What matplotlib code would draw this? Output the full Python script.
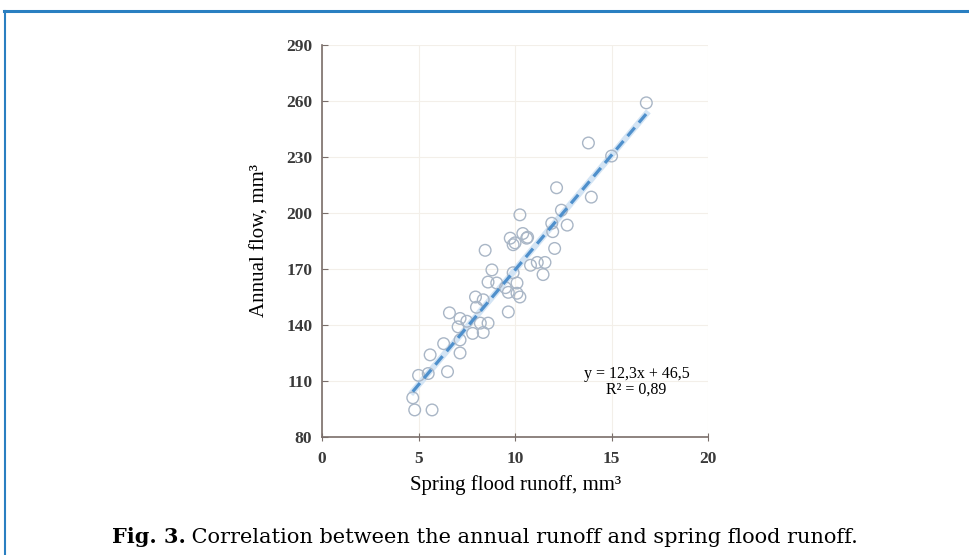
import numpy as np
import matplotlib.pyplot as plt
from matplotlib.lines import Line2D

# spring flood runoff (x) and annual flow (y)
spring = [4.7, 4.8, 5.7, 5.0, 5.5, 6.5, 5.6, 7.15, 6.3, 7.15,
          7.05, 6.6, 7.15, 7.8, 8.35, 8.2, 8.6, 9.65, 8.0, 8.35,
          7.95, 9.65, 10.25, 10.1, 9.9, 8.6, 9.05, 8.8, 11.45, 10.8,
          11.15, 11.55, 12.05, 8.45, 10.0, 9.75, 10.4, 10.6, 11.95, 12.7,
          12.4, 10.25, 11.9, 12.15, 13.95, 15.0, 13.8, 16.8, 9.9, 10.65,
          7.5, 9.5, 10.1]
annual = [101, 94.5, 94.5, 113, 114, 115, 124, 125, 130, 132,
          139, 146.5, 143.5, 135.5, 136, 141, 141, 147, 149.5, 153.5,
          155, 157.5, 155, 162.5, 168, 163, 162.5, 169.5, 167, 172,
          173.5, 173.5, 181, 180, 184, 186.5, 189, 186.5, 190, 193.5,
          201.5, 199, 194.5, 213.5, 208.5, 230.5, 237.5, 259, 183, 187,
          142, 160, 157]

slope, intercept, r2 = 12.3, 46.5, 0.89
xticks = [0, 5, 10, 15, 20]
yticks = [80, 110, 140, 170, 200, 230, 260, 290]

plt.rcParams['font.family'] = ['Liberation Serif', 'DejaVu Serif']

fig = plt.figure(figsize=(9.7, 5.55), dpi=100)
ax = fig.add_axes([0.332, 0.2126, 0.398, 0.7064])

ax.scatter(spring, annual, s=70, facecolors='none', edgecolors='#a9b6c6',
           linewidths=1.0, zorder=3)

xs = np.array([min(spring), max(spring)])
ax.plot(xs, slope * xs + intercept, color='#d3e4f4', lw=4.5, zorder=2)
ax.plot(xs, slope * xs + intercept, color='#4f90cc', lw=2.3,
        dashes=(3.5, 2), zorder=4)

ax.set_xlim(0, 20)
ax.set_ylim(80, 290)
ax.set_xticks(xticks)
ax.set_yticks(yticks)
ax.grid(True, color='#f3efe9', lw=0.8)
ax.set_axisbelow(True)

for s in ['top', 'right']:
    ax.spines[s].set_visible(False)
for s in ['left', 'bottom']:
    ax.spines[s].set_color('#7a6e6a')
    ax.spines[s].set_linewidth(1.2)
ax.tick_params(axis='y', direction='in', length=4, color='#7a6e6a',
               labelsize=12.5, labelcolor='#3a3a3a', pad=7)
ax.tick_params(axis='x', direction='inout', length=6, color='#7a6e6a',
               labelsize=12.5, labelcolor='#3a3a3a', pad=7)
for lab in ax.get_xticklabels() + ax.get_yticklabels():
    lab.set_fontweight('bold')

ax.set_ylabel('Annual flow, mm³', fontsize=15, labelpad=12)
ax.set_xlabel('Spring flood runoff, mm³', fontsize=15, labelpad=6)

ax.text(16.3, 113.5, 'y = 12,3x + 46,5', ha='center', va='center', fontsize=11.5)
ax.text(16.3, 105.5, 'R² = 0,89', ha='center', va='center', fontsize=11.5)

# caption: bold lead-in + regular text, centred as one line
fig.canvas.draw()
r = fig.canvas.get_renderer()
cap = dict(fontsize=15, va='baseline', family=['DejaVu Serif'])
t1 = fig.text(0, 0.022, 'Fig. 3.', fontweight='bold', **cap)
t2 = fig.text(0, 0.022, ' Correlation between the annual runoff and spring flood runoff.', **cap)
w1 = t1.get_window_extent(r).width / fig.bbox.width
w2 = t2.get_window_extent(r).width / fig.bbox.width
x0 = 0.5 - (w1 + w2) / 2
t1.set_x(x0)
t2.set_x(x0 + w1)

# blue frame on top and left edge
fig.add_artist(Line2D([0.004, 1.0], [0.980, 0.980], color='#2a7fc1', lw=2.2))
fig.add_artist(Line2D([0.005, 0.005], [0.0, 0.980], color='#2a7fc1', lw=1.5))

fig.savefig('out.png', dpi=100)
